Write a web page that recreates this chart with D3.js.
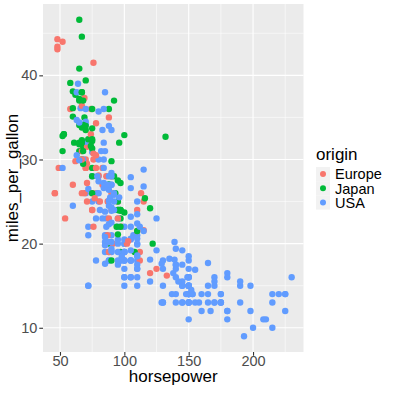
<!DOCTYPE html>
<html>
<head>
<meta charset="utf-8">
<script src="https://cdn.jsdelivr.net/npm/d3@7"></script>
<style>
  body { margin: 0; background: #fff; }
  svg { display: block; font-family: "Liberation Sans", Arial, sans-serif; }
</style>
</head>
<body>
<svg id="chart" width="393" height="393"></svg>
<script>
// cars: horsepower vs miles_per_gallon, coloured by origin (1 = USA, 2 = Europe, 3 = Japan)
var horsepower = [
  130,165,150,150,140,198,220,215,225,190,170,160,150,225,95,95,97,85,88,46,
  87,90,95,113,90,215,200,210,193,88,90,95,100,105,100,88,100,165,175,153,
  150,180,170,175,110,72,100,88,86,90,70,76,65,69,60,70,95,80,54,90,
  86,165,175,150,153,150,208,155,160,190,97,150,130,140,150,112,76,87,69,86,
  92,97,80,88,175,150,145,137,150,198,150,158,150,215,225,175,105,100,100,88,
  95,46,150,167,170,180,100,88,72,94,90,85,107,90,145,230,49,75,91,112,
  150,110,122,180,95,100,100,67,80,65,75,100,110,105,140,150,150,140,150,83,
  67,78,52,61,75,75,75,97,93,67,95,105,72,72,170,145,150,148,110,105,
  110,95,110,110,129,75,83,100,78,96,71,97,97,70,90,95,88,98,115,53,
  86,81,92,79,83,140,150,120,152,100,105,81,90,52,60,70,53,100,78,110,
  95,71,70,75,72,102,150,88,108,120,180,145,130,150,68,80,58,96,70,145,
  110,145,130,110,105,100,98,180,170,190,149,78,88,75,89,63,83,67,78,97,
  110,110,48,66,52,70,60,110,140,139,105,95,85,88,100,90,105,85,110,120,
  145,165,139,140,68,95,97,75,95,105,85,97,103,125,115,133,71,68,115,85,
  88,90,110,130,129,138,135,155,142,125,150,71,65,80,80,77,125,71,90,70,
  70,65,69,90,115,115,90,76,60,70,65,90,88,90,90,78,90,75,92,75,
  65,105,65,48,48,67,67,67,67,62,132,100,88,72,84,84,92,110,84,58,
  64,60,67,65,62,68,63,65,65,74,75,75,100,74,80,76,116,120,110,105,
  88,85,88,88,88,85,84,90,92,74,68,68,63,70,88,75,70,67,67,67,
  110,85,92,112,96,84,90,86,52,84,79,82
];
var milesPerGallon = [
  18,15,18,16,17,15,14,14,14,15,15,14,15,14,24,22,18,21,27,26,
  25,24,25,26,21,10,10,11,9,27,28,25,19,16,17,19,18,14,14,14,
  14,12,13,13,18,22,19,18,23,28,30,30,31,35,27,26,24,25,23,20,
  21,13,14,15,14,17,11,13,12,13,19,15,13,13,14,18,22,21,26,22,
  28,23,28,27,13,14,13,14,15,12,13,13,14,13,12,13,18,16,18,18,
  23,26,11,12,13,12,18,20,21,22,18,19,21,26,15,16,29,24,20,19,
  15,24,20,11,20,19,15,31,26,32,25,16,16,18,16,13,14,14,14,29,
  26,26,31,32,28,24,26,24,26,31,19,18,15,15,16,15,16,14,17,16,
  15,18,21,20,13,29,23,20,23,24,25,24,18,29,19,23,23,22,25,33,
  28,25,25,26,27,17.5,16,15.5,14.5,22,22,24,22.5,29,24.5,29,33,20,18,18.5,
  17.5,29.5,32,28,26.5,20,13,19,19,16.5,16.5,13,13,13,31.5,30,36,25.5,33.5,17.5,
  17,15.5,15,17.5,20.5,19,18.5,16,15.5,15.5,16,29,24.5,26,25.5,30.5,33.5,30,30.5,22,
  21.5,21.5,43.1,36.1,32.8,39.4,36.1,19.9,19.4,20.2,19.2,20.5,20.2,25.1,20.5,19.4,20.6,20.8,18.6,18.1,
  19.2,17.7,18.1,17.5,30,27.5,27.2,30.9,21.1,23.2,23.8,23.9,20.3,17,21.6,16.2,31.5,29.5,21.5,19.8,
  22.3,20.2,20.6,17,17.6,16.5,18.2,16.9,15.5,19.2,18.5,31.9,34.1,35.7,27.4,25.4,23,27.2,23.9,34.2,
  34.5,31.8,37.3,28.4,28.8,26.8,33.5,41.5,38.1,32.1,37.2,28,26.4,24.3,19.1,34.3,29.8,31.3,37,32.2,
  46.6,27.9,40.8,44.3,43.4,36.4,30,44.6,33.8,29.8,32.7,23.7,35,32.4,27.2,26.6,25.8,23.5,30,39.1,
  39,35.1,32.3,37,37.7,34.1,34.7,34.4,29.9,33,33.7,32.4,32.9,31.6,28.1,30.7,25.4,24.2,22.4,26.6,
  20.2,17.6,28,27,34,31,29,27,24,36,37,31,38,36,36,36,34,38,32,38,
  25,38,26,22,32,36,27,27,44,32,28,31
];
var originCode = [
  1,1,1,1,1,1,1,1,1,1,1,1,1,1,3,1,1,1,3,2,
  2,2,2,2,1,1,1,1,1,3,1,3,1,1,1,1,1,1,1,1,
  1,1,1,1,1,1,1,1,1,2,2,2,3,3,2,1,3,1,2,1,
  1,1,1,1,1,1,1,1,1,1,3,1,1,1,1,2,2,2,2,1,
  3,3,1,3,1,1,1,1,1,1,1,1,1,1,1,1,1,1,1,1,
  1,2,1,1,1,1,1,3,1,3,3,1,1,2,1,1,2,2,2,2,
  1,2,3,1,1,1,1,3,1,3,1,1,1,1,1,1,1,1,1,2,
  2,2,3,3,1,2,2,3,3,2,1,1,1,1,1,1,1,1,1,1,
  1,1,1,1,1,3,1,1,1,3,2,3,1,2,1,2,2,2,2,3,
  2,2,1,1,2,1,1,1,1,1,1,1,1,1,1,2,3,1,1,1,
  1,2,3,3,1,2,1,2,3,2,1,1,1,1,3,1,2,1,3,1,
  1,1,1,1,1,1,1,1,1,1,1,2,1,3,1,1,1,3,2,3,
  2,3,2,1,3,3,3,1,1,1,1,1,1,1,1,1,1,1,1,1,
  1,1,1,1,1,3,3,1,3,1,1,3,2,2,2,2,2,3,1,1,
  1,1,1,1,1,1,1,1,1,1,1,2,3,1,1,2,1,2,1,1,
  1,3,2,1,1,1,1,2,3,1,3,1,1,1,1,2,3,3,3,3,
  3,1,3,2,2,2,2,3,3,2,3,3,2,3,1,1,1,1,1,3,
  1,3,3,3,3,3,1,1,1,2,3,3,3,3,2,2,3,3,1,1,
  1,1,1,1,1,1,1,1,1,2,3,3,1,1,3,3,3,3,3,3,
  1,1,1,1,3,1,1,1,2,1,1,1
];
var originNames = ["", "USA", "Europe", "Japan"];
var legendOrigins = ["Europe", "Japan", "USA"];
var originColors = ["#F8766D", "#00BA38", "#619CFF"];
var xTicks = [50, 100, 150, 200];
var yTicks = [10, 20, 30, 40];

var cars = horsepower.map(function (hp, i) {
  return { horsepower: hp, mpg: milesPerGallon[i], origin: originNames[originCode[i]] };
});

var dimensions = {
  width: 393,
  height: 393,
  margin: { top: 4, right: 89.5, bottom: 41, left: 43 },
};
dimensions.boundedWidth = dimensions.width - dimensions.margin.left - dimensions.margin.right;
dimensions.boundedHeight = dimensions.height - dimensions.margin.top - dimensions.margin.bottom;

var svg = d3.select("#chart");

// ggplot style 5% expansion of the data range
var xExt = d3.extent(cars, (d) => d.horsepower);
var yExt = d3.extent(cars, (d) => d.mpg);
var xPad = (xExt[1] - xExt[0]) * 0.05;
var yPad = (yExt[1] - yExt[0]) * 0.05;

var xScale = d3
  .scaleLinear()
  .domain([xExt[0] - xPad, xExt[1] + xPad])
  .range([0, dimensions.boundedWidth]);
var yScale = d3
  .scaleLinear()
  .domain([yExt[0] - yPad, yExt[1] + yPad])
  .range([dimensions.boundedHeight, 0]);
var colorScale = d3.scaleOrdinal().domain(legendOrigins).range(originColors);

var bounds = svg
  .append("g")
  .attr("transform", "translate(" + dimensions.margin.left + "," + dimensions.margin.top + ")");

// panel background
bounds
  .append("rect")
  .attr("width", dimensions.boundedWidth)
  .attr("height", dimensions.boundedHeight)
  .attr("fill", "#EBEBEB");

// minor grid lines (midpoints between major ticks)
var xMinor = xTicks.map((t) => t - 25).concat([xTicks[xTicks.length - 1] + 25]);
var yMinor = yTicks.map((t) => t + 5);
bounds
  .selectAll(".xminor")
  .data(xMinor)
  .enter()
  .append("line")
  .attr("x1", (d) => xScale(d))
  .attr("x2", (d) => xScale(d))
  .attr("y1", 0)
  .attr("y2", dimensions.boundedHeight)
  .attr("stroke", "#fff")
  .attr("stroke-width", 0.55);
bounds
  .selectAll(".yminor")
  .data(yMinor)
  .enter()
  .append("line")
  .attr("y1", (d) => yScale(d))
  .attr("y2", (d) => yScale(d))
  .attr("x1", 0)
  .attr("x2", dimensions.boundedWidth)
  .attr("stroke", "#fff")
  .attr("stroke-width", 0.55);

// major grid lines
bounds
  .selectAll(".xmajor")
  .data(xTicks)
  .enter()
  .append("line")
  .attr("x1", (d) => xScale(d))
  .attr("x2", (d) => xScale(d))
  .attr("y1", 0)
  .attr("y2", dimensions.boundedHeight)
  .attr("stroke", "#fff")
  .attr("stroke-width", 1.1);
bounds
  .selectAll(".ymajor")
  .data(yTicks)
  .enter()
  .append("line")
  .attr("y1", (d) => yScale(d))
  .attr("y2", (d) => yScale(d))
  .attr("x1", 0)
  .attr("x2", dimensions.boundedWidth)
  .attr("stroke", "#fff")
  .attr("stroke-width", 1.1);

// points
bounds
  .selectAll("circle")
  .data(cars)
  .enter()
  .append("circle")
  .attr("cx", (d) => xScale(d.horsepower))
  .attr("cy", (d) => yScale(d.mpg))
  .attr("r", 3.2)
  .attr("fill", (d) => colorScale(d.origin));

// axes
var xAxis = d3.axisBottom(xScale).tickValues(xTicks).tickSize(3.7).tickPadding(0.5).tickSizeOuter(0);
var yAxis = d3.axisLeft(yScale).tickValues(yTicks).tickSize(3.7).tickPadding(2).tickSizeOuter(0);

var gx = svg
  .append("g")
  .attr("transform", "translate(" + dimensions.margin.left + "," + (dimensions.margin.top + dimensions.boundedHeight) + ")")
  .call(xAxis);
var gy = svg
  .append("g")
  .attr("transform", "translate(" + dimensions.margin.left + "," + dimensions.margin.top + ")")
  .call(yAxis);

[gx, gy].forEach(function (g) {
  g.select(".domain").remove();
  g.selectAll(".tick line").attr("stroke", "#333333").attr("stroke-width", 1.1);
  g.selectAll(".tick text")
    .attr("fill", "#4D4D4D")
    .style("font-size", "14.5px")
    .style("font-family", '"Liberation Sans", Arial, sans-serif');
});

// axis titles
svg
  .append("text")
  .attr("x", dimensions.margin.left + dimensions.boundedWidth / 2)
  .attr("y", 382)
  .attr("text-anchor", "middle")
  .style("font-size", "17px")
  .attr("fill", "#000")
  .text("horsepower");

svg
  .append("text")
  .attr("transform", "translate(18," + (dimensions.margin.top + dimensions.boundedHeight / 2) + ") rotate(-90)")
  .attr("text-anchor", "middle")
  .style("font-size", "17px")
  .attr("fill", "#000")
  .text("miles_per_gallon");

// legend
var legend = svg.append("g").attr("transform", "translate(316,167)");
legend
  .append("text")
  .attr("x", 0)
  .attr("y", -7.5)
  .style("font-size", "17px")
  .attr("fill", "#000")
  .text("origin");

var keys = legend
  .selectAll(".key")
  .data(legendOrigins)
  .enter()
  .append("g")
  .attr("transform", (d, i) => "translate(0," + i * 14.2 + ")");
keys
  .append("rect")
  .attr("width", 14)
  .attr("height", 14.2)
  .attr("fill", "#F2F2F2");
keys
  .append("circle")
  .attr("cx", 7)
  .attr("cy", 7.1)
  .attr("r", 3)
  .attr("fill", (d) => colorScale(d));
keys
  .append("text")
  .attr("x", 19)
  .attr("y", 7.1)
  .attr("dy", "0.36em")
  .style("font-size", "14.5px")
  .attr("fill", "#000")
  .text((d) => d);
</script>
</body>
</html>
